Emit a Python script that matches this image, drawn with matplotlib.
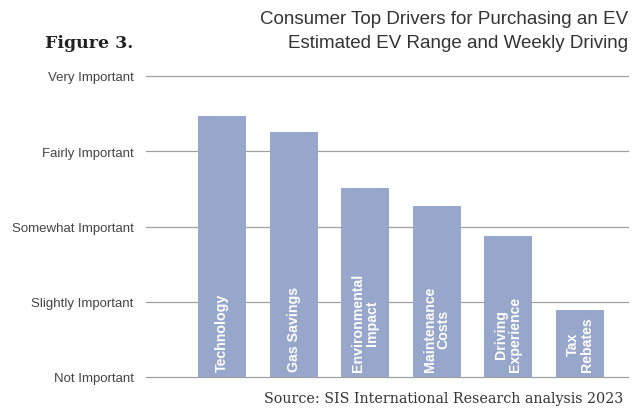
import numpy as np
import matplotlib.pyplot as plt

# EV purchase drivers, rated on a 1 (not important) to 5 (very important) scale
drivers = ['Technology', 'Gas Savings', 'Environmental\nImpact',
           'Maintenance\nCosts', 'Driving\nExperience', 'Tax\nRebates']
scores = [4.47, 4.25, 3.51, 3.27, 2.87, 1.89]
levels = [1, 2, 3, 4, 5]
level_names = ['Not Important', 'Slightly Important', 'Somewhat Important',
               'Fairly Important', 'Very Important']

bar_color = '#97a6cb'
grid_color = '#a0a0a0'

fig = plt.figure(figsize=(6.41, 4.10), dpi=100)
ax = fig.add_axes([146/641, 32/410, 482/641, 301/410])

x = np.arange(len(drivers))
for lv in levels:
    ax.axhline(lv, color=grid_color, lw=0.9, zorder=1, clip_on=False)
ax.bar(x, np.array(scores) - 1, bottom=1, width=0.67, color=bar_color, zorder=2)

for xi, name in zip(x, drivers):
    ax.text(xi, 1.08, name, rotation=90, ha='center', va='bottom',
            color='white', fontsize=10.2, fontweight='bold',
            family='Liberation Sans', linespacing=1.0, zorder=3)

ax.set_xlim(-1.06, 5.67)
ax.set_ylim(1, 5)
ax.set_xticks([])
ax.set_yticks(levels)
ax.set_yticklabels(level_names, fontsize=9.5, color='#444444', family='Liberation Sans')
ax.tick_params(axis='y', length=0, pad=9)
for s in ax.spines.values():
    s.set_visible(False)

fig.text(628/641, 1 - 20/410, 'Consumer Top Drivers for Purchasing an EV',
         ha='right', va='center', fontsize=13.5, color='#333333', family='Liberation Sans')
fig.text(628/641, 1 - 43/410, 'Estimated EV Range and Weekly Driving',
         ha='right', va='center', fontsize=13.5, color='#333333', family='Liberation Sans')
fig.text(45/641, 1 - 44/410, 'Figure 3.', ha='left', va='center',
         fontsize=12.5, fontweight='bold', color='#222222', family='DejaVu Serif')
fig.text(623/641, 1 - 399/410, 'Source: SIS International Research analysis 2023',
         ha='right', va='center', fontsize=10.3, color='#333333', family='DejaVu Serif')

fig.savefig('out.png', dpi=100)
